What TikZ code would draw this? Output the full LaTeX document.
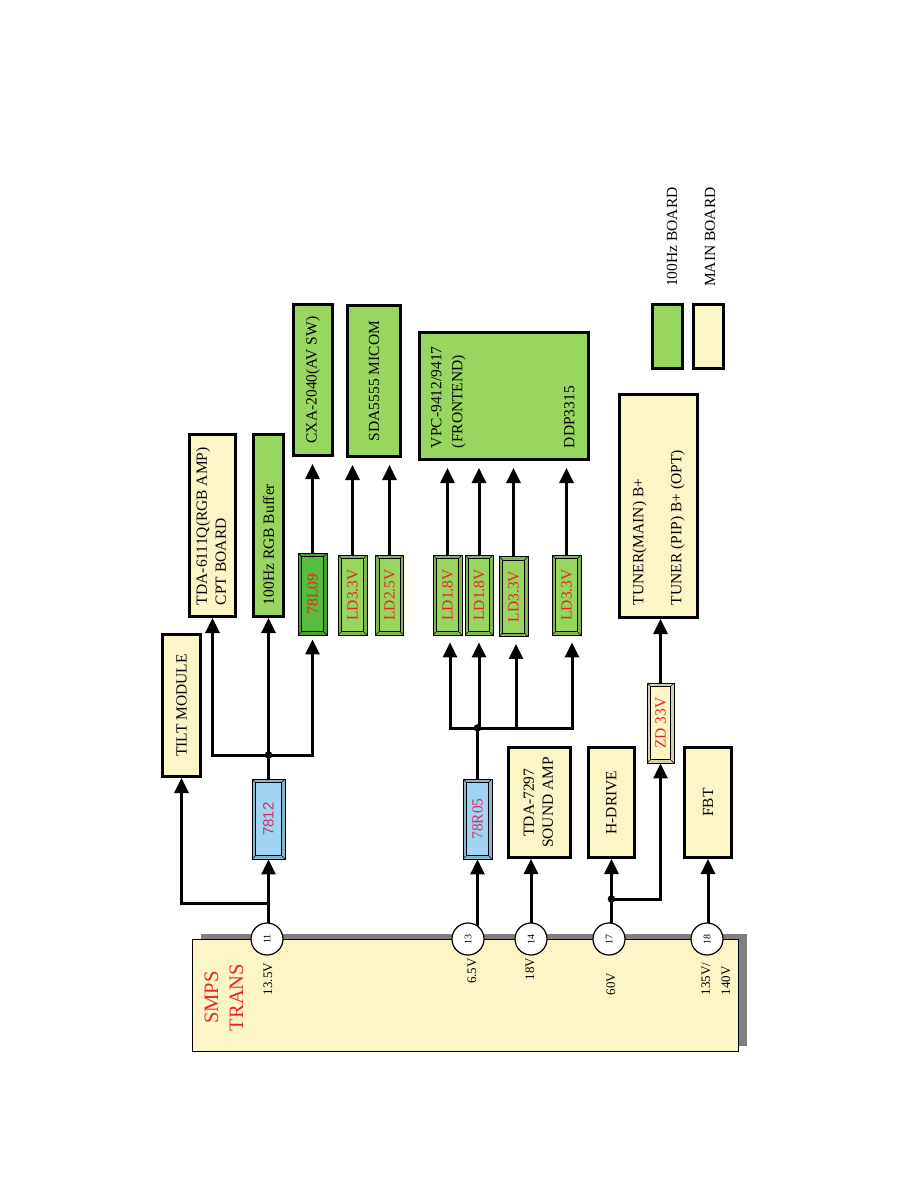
\documentclass[tikz,border=0pt]{standalone}
\usepackage{fontspec}
\setmainfont{Liberation Serif}
\newfontfamily\regsans{Liberation Sans}
\usetikzlibrary{arrows.meta,shadows,backgrounds}

\definecolor{mainyel}{RGB}{252,246,198}
\definecolor{boardgrn}{RGB}{152,214,96}
\definecolor{darkgrn}{RGB}{88,188,62}
\definecolor{regblu}{RGB}{160,212,242}
\definecolor{lblred}{RGB}{232,36,36}
\definecolor{regred}{RGB}{214,44,96}

\newcommand*{\rot}[1]{\rotatebox{90}{#1}}
\newcommand*{\rotl}[2]{\rotatebox{90}{\makebox[#1][l]{#2}}}

\begin{document}
\begin{tikzpicture}
[
	x=1pt,y=-1pt,
	every node/.style={font=\fontsize{15.5}{19}\selectfont,inner sep=0pt},
	mainbox/.style={draw,line width=3pt,fill=mainyel},
	hzbox/.style={draw,line width=3pt,fill=boardgrn},
	bevel/.style={draw,line width=0.8pt,fill=#1!85!black,
		path picture={
			\draw[line width=0.6pt,fill=#1]
				([shift={(3.5pt,3.5pt)}]path picture bounding box.south west) rectangle
				([shift={(-3.5pt,-3.5pt)}]path picture bounding box.north east);
			\draw[line width=0.6pt]
				(path picture bounding box.south west) -- ++(3.5pt,3.5pt)
				(path picture bounding box.north east) -- ++(-3.5pt,-3.5pt)
				(path picture bounding box.south east) -- ++(-3.5pt,3.5pt)
				(path picture bounding box.north west) -- ++(3.5pt,-3.5pt);
		}},
	ldbox/.style={bevel=boardgrn,minimum width=29pt,minimum height=80pt,text=lblred},
	pin/.style={circle,draw,line width=1.2pt,fill=white,minimum size=32pt,
		font=\fontsize{10}{12}\selectfont},
	volt/.style={font=\fontsize{13}{15}\selectfont},
	wire/.style={line width=3pt},
	arr/.style={line width=3pt,-{Triangle[width=14pt,length=15pt]}},
	gap/.style={shorten >=7pt},
	dot/.style={fill}
]

	\useasboundingbox (0,0) rectangle (918,1188);

	% power transformer
	\node[draw,line width=1.2pt,fill=mainyel,minimum width=546pt,minimum height=112pt,
		drop shadow={shadow xshift=8pt,shadow yshift=6pt,fill=gray,opacity=1}]
		(smps) at (465.5,995.5) {};
	\node[text=lblred,font=\fontsize{20.5}{25}\selectfont] (smpslbl) at (225.5,997.5)
		{\rot{\begin{tabular}{@{}c@{}}SMPS\\TRANS\end{tabular}}};

	\node[pin] (p11) at (267,939) {\rot{11}};
	\node[pin] (p13) at (468,939) {\rot{13}};
	\node[pin] (p14) at (531,939) {\rot{14}};
	\node[pin] (p17) at (609,939) {\rot{17}};
	\node[pin] (p18) at (707,939) {\rot{18}};

	\node[volt] (v11) at (268,979) {\rot{13.5V}};
	\node[volt] (v13) at (472,971) {\rot{6.5V}};
	\node[volt] (v14) at (530,969) {\rot{18V}};
	\node[volt] (v17) at (611,984) {\rot{60V}};
	\node[volt] (v18) at (717,979) {\rot{\begin{tabular}{@{}l@{}}135V/\\[5pt]140V\end{tabular}}};

	% main board blocks
	\node[mainbox,minimum width=38pt,minimum height=142pt] (tilt) at (181.5,705.5) {\rot{TILT MODULE}};
	\node[mainbox,minimum width=46pt,minimum height=182pt] (tda6111) at (212.5,525.5)
		{\rotl{159pt}{\begin{tabular}{@{}l@{}}TDA-6111Q(RGB AMP)\\CPT BOARD\end{tabular}}};
	\node[mainbox,minimum width=78pt,minimum height=223pt] (tuner) at (658.5,506)
		{\rotl{198pt}{\begin{tabular}{@{}l@{}}TUNER(MAIN) B+\\[19pt]TUNER (PIP) B+ (OPT)\end{tabular}}};
	\node[mainbox,minimum width=62pt,minimum height=110pt] (tda7297) at (539.5,802.5)
		{\rot{\begin{tabular}{@{}c@{}}TDA-7297\\SOUND AMP\end{tabular}}};
	\node[mainbox,minimum width=46pt,minimum height=110pt] (hdrive) at (611.5,802.5) {\rot{H-DRIVE}};
	\node[mainbox,minimum width=47pt,minimum height=110pt] (fbt) at (708,802.5) {\rot{FBT}};

	% 100Hz board blocks
	\node[hzbox,minimum width=30pt,minimum height=182pt] (rgbbuf) at (268.5,525.5)
		{\rotl{159pt}{100Hz RGB Buffer}};
	\node[hzbox,minimum width=39pt,minimum height=151pt] (cxa) at (313,380) {\rot{CXA-2040(AV SW)}};
	\node[hzbox,minimum width=53pt,minimum height=151pt] (sda) at (374,381) {\rot{SDA5555 MICOM}};
	\node[hzbox,minimum width=169pt,minimum height=127pt] (vpc) at (504,396)
		{\rotl{104pt}{\begin{tabular}{@{}l@{}}VPC-9412/9417\\[2pt](FRONTEND)\\[93pt]DDP3315\end{tabular}}};

	% regulators
	\node[bevel=regblu,minimum width=33pt,minimum height=80pt,text=regred,
		font=\regsans\fontsize{15}{18}\selectfont] (r7812) at (268.5,819) {\rot{7812}};
	\node[bevel=regblu,minimum width=29pt,minimum height=80pt,text=regred] (r78r05) at (477.5,819) {\rot{78R05}};
	\node[bevel=mainyel,minimum width=27pt,minimum height=80pt,text=lblred] (zd) at (660.5,723) {\rot{ZD 33V}};
	\node[bevel=darkgrn,minimum width=29pt,minimum height=82pt,text=lblred] (r78l09) at (312.5,594) {\rot{78L09}};
	\node[ldbox] (ld33a) at (352.5,595) {\rot{LD3.3V}};
	\node[ldbox,minimum width=28pt] (ld25) at (389.5,595) {\rot{LD2.5V}};
	\node[ldbox] (ld18a) at (447.5,595) {\rot{LD1.8V}};
	\node[ldbox,minimum width=28pt] (ld18b) at (479,595) {\rot{LD1.8V}};
	\node[ldbox] (ld33b) at (513.5,596.5) {\rot{LD3.3V}};
	\node[ldbox] (ld33c) at (566.5,595) {\rot{LD3.3V}};

	% legend
	\node[hzbox,minimum width=30pt,minimum height=64pt] (keyhz) at (667.5,336.5) {};
	\node[mainbox,minimum width=30pt,minimum height=64pt] (keymain) at (708.5,336.5) {};
	\node[anchor=south] (keyhztxt) at (672,287) {\rot{100Hz BOARD}};
	\node[anchor=south] (keymaintxt) at (710,287) {\rot{MAIN BOARD}};

	% junctions
	\coordinate (b11) at (268.5,903);
	\coordinate (j1) at (268.5,755);
	\coordinate (j2) at (477.5,728);
	\coordinate (j3) at (611.5,899);

	\begin{pgfonlayer}{background}
		% 13.5V
		\draw[arr] (p11.center -| r7812.south) -- (r7812.south);
		\draw[arr] (b11) -| (tilt.south);
		\draw[wire] (r7812.north) -- (j1);
		\draw[arr] (j1) -- (rgbbuf.south);
		\draw[arr] (j1) -| (tda6111.south);
		\draw[arr,shorten >=4pt] (j1) -| (r78l09.south);
		\draw[arr,gap] (r78l09.north) -- (r78l09.north |- cxa.south);
		\draw[arr,gap] (ld33a.north) -- (ld33a.north |- sda.south);
		\draw[arr,gap] (ld25.north) -- (ld25.north |- sda.south);

		% 6.5V
		\draw[arr] (p13.center -| r78r05.south) -- (r78r05.south);
		\draw[wire] (r78r05.north) -- (j2);
		\draw[arr,gap] (j2) -| ([xshift=2.5pt]ld18a.south);
		\draw[arr,gap] (j2) -| (ld18b.south);
		\draw[arr,gap] (j2) -| ([xshift=2.5pt]ld33b.south);
		\draw[arr,gap] (j2) -| ([xshift=5.5pt]ld33c.south);
		\foreach \ld in {ld18a,ld18b,ld33b,ld33c} {
			\draw[arr,gap] (\ld.north) -- (\ld.north |- vpc.south);
		}

		% 18V
		\draw[arr] (p14.center) -- (p14.center |- tda7297.south);

		% 60V
		\draw[wire] (p17.center -| hdrive.south) -- (j3);
		\draw[arr] (j3) -- (hdrive.south);
		\draw[arr] (j3) -| (zd.south);
		\draw[arr] (zd.north) -- (zd.north |- tuner.south);

		% 135V/140V
		\draw[arr] (p18.center -| fbt.south) -- (fbt.south);
	\end{pgfonlayer}

	\foreach \j in {j1,j2,j3} {
		\fill[dot] (\j) circle (3.8pt);
	}

\end{tikzpicture}
\end{document}
